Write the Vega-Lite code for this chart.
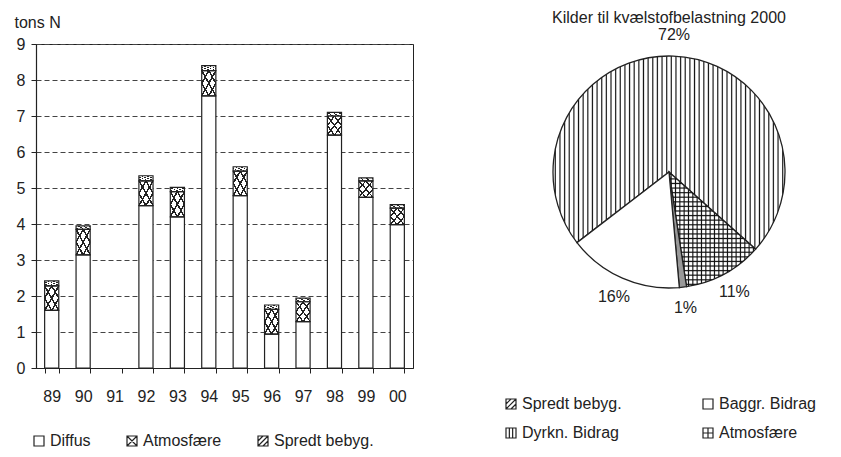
{
"$schema":"https://vega.github.io/schema/vega-lite/v6.json",
"background":"white",
"padding":{"left":13,"top":10,"right":0,"bottom":0},
"spacing":89,
"config":{"font":"Liberation Sans","view":{"stroke":null},"axis":{"labelColor":"#222","titleColor":"#222","domainColor":"#222","tickColor":"#222"},"legend":{"labelColor":"#222"}},
"resolve":{"scale":{"shape":"independent"},"legend":{"shape":"independent"}},
"hconcat":[
{
"width":377,"height":324,
"view":{"stroke":"#222","strokeWidth":1},
"data":{"values":[
{"year":"89","source":"Diffus","value":1.6},{"year":"89","source":"Atmosfære","value":0.68},{"year":"89","source":"Spredt bebyg.","value":0.14},
{"year":"90","source":"Diffus","value":3.14},{"year":"90","source":"Atmosfære","value":0.71},{"year":"90","source":"Spredt bebyg.","value":0.1},
{"year":"92","source":"Diffus","value":4.51},{"year":"92","source":"Atmosfære","value":0.69},{"year":"92","source":"Spredt bebyg.","value":0.14},
{"year":"93","source":"Diffus","value":4.2},{"year":"93","source":"Atmosfære","value":0.7},{"year":"93","source":"Spredt bebyg.","value":0.12},
{"year":"94","source":"Diffus","value":7.56},{"year":"94","source":"Atmosfære","value":0.7},{"year":"94","source":"Spredt bebyg.","value":0.14},
{"year":"95","source":"Diffus","value":4.79},{"year":"95","source":"Atmosfære","value":0.68},{"year":"95","source":"Spredt bebyg.","value":0.12},
{"year":"96","source":"Diffus","value":0.94},{"year":"96","source":"Atmosfære","value":0.69},{"year":"96","source":"Spredt bebyg.","value":0.12},
{"year":"97","source":"Diffus","value":1.29},{"year":"97","source":"Atmosfære","value":0.55},{"year":"97","source":"Spredt bebyg.","value":0.1},
{"year":"98","source":"Diffus","value":6.47},{"year":"98","source":"Atmosfære","value":0.53},{"year":"98","source":"Spredt bebyg.","value":0.1},
{"year":"99","source":"Diffus","value":4.74},{"year":"99","source":"Atmosfære","value":0.46},{"year":"99","source":"Spredt bebyg.","value":0.08},
{"year":"00","source":"Diffus","value":3.98},{"year":"00","source":"Atmosfære","value":0.46},{"year":"00","source":"Spredt bebyg.","value":0.1}
]},
"transform":[{"calculate":"indexof(['Diffus','Atmosfære','Spredt bebyg.'], datum.source)","as":"k"}],
"encoding":{
"x":{"field":"year","type":"nominal","scale":{"domain":["89","90","91","92","93","94","95","96","97","98","99","00"],"paddingInner":0.55,"paddingOuter":0.275},
 "axis":{"title":null,"labelAngle":0,"tickBand":"extent","tickSize":5,"labelPadding":15,"labelFontSize":16,"domainWidth":1.2}},
"y":{"field":"value","type":"quantitative","stack":"zero","scale":{"domain":[0,9],"nice":false},
 "axis":{"title":"tons N","titleAngle":0,"titleAlign":"left","titleBaseline":"alphabetic","titleX":-22,"titleY":-17,"titleFontSize":16,"titleFontWeight":"normal",
 "values":[0,1,2,3,4,5,6,7,8,9],"grid":true,"gridDash":[5,3],"gridColor":"#444","gridWidth":1,"tickSize":5,"labelPadding":6,"labelFontSize":16,"domainWidth":1.2}},
"detail":{"field":"source"},
"order":{"field":"k","type":"quantitative"}
},
"layer":[
{"mark":{"type":"bar","strokeWidth":0},
 "encoding":{"fill":{"condition":[
  {"test":"datum.source === 'Atmosfære'","value":{"gradient":"linear","x1":0,"y1":0,"x2":1,"y2":1,"stops":[{"offset":0.22,"color":"#fff"},{"offset":0.22,"color":"#222"},{"offset":0.28,"color":"#222"},{"offset":0.28,"color":"#fff"},{"offset":0.47,"color":"#fff"},{"offset":0.47,"color":"#222"},{"offset":0.53,"color":"#222"},{"offset":0.53,"color":"#fff"},{"offset":0.72,"color":"#fff"},{"offset":0.72,"color":"#222"},{"offset":0.78,"color":"#222"},{"offset":0.78,"color":"#fff"}]}},
  {"test":"datum.source === 'Spredt bebyg.'","value":{"gradient":"linear","x1":0,"y1":0,"x2":1,"y2":1,"stops":[{"offset":0.17,"color":"#fff"},{"offset":0.17,"color":"#222"},{"offset":0.23,"color":"#222"},{"offset":0.23,"color":"#fff"},{"offset":0.37,"color":"#fff"},{"offset":0.37,"color":"#222"},{"offset":0.43,"color":"#222"},{"offset":0.43,"color":"#fff"},{"offset":0.57,"color":"#fff"},{"offset":0.57,"color":"#222"},{"offset":0.63,"color":"#222"},{"offset":0.63,"color":"#fff"},{"offset":0.77,"color":"#fff"},{"offset":0.77,"color":"#222"},{"offset":0.83,"color":"#222"},{"offset":0.83,"color":"#fff"}]}}
 ],"value":"#fff"}}},
{"mark":{"type":"bar","stroke":"#222","strokeWidth":1.2},
 "encoding":{"fill":{"condition":{"test":"datum.source === 'Atmosfære'","value":
  {"gradient":"linear","x1":1,"y1":0,"x2":0,"y2":1,"stops":[{"offset":0.22,"color":"rgba(0,0,0,0)"},{"offset":0.22,"color":"#222"},{"offset":0.28,"color":"#222"},{"offset":0.28,"color":"rgba(0,0,0,0)"},{"offset":0.47,"color":"rgba(0,0,0,0)"},{"offset":0.47,"color":"#222"},{"offset":0.53,"color":"#222"},{"offset":0.53,"color":"rgba(0,0,0,0)"},{"offset":0.72,"color":"rgba(0,0,0,0)"},{"offset":0.72,"color":"#222"},{"offset":0.78,"color":"#222"},{"offset":0.78,"color":"rgba(0,0,0,0)"}]}},"value":"transparent"}}},
{"mark":{"type":"point","opacity":0,"color":"#222"},
 "encoding":{"shape":{"field":"source","type":"nominal",
  "scale":{"domain":["Diffus","Atmosfære","Spredt bebyg."],"range":["M-1,-1H1V1H-1Z","M-1,-1H1V1H-1Z M-1,-1L1,1 M1,-1L-1,1","M-1,-1H1V1H-1Z M-1,0L0,-1 M-1,1L1,-1 M0,1L1,0"]},
  "legend":{"title":null,"orient":"none","direction":"horizontal","legendX":-5,"legendY":389,"symbolSize":100,"symbolStrokeWidth":1.2,"symbolStrokeColor":"#222","symbolOpacity":1,"labelFontSize":16,"columnPadding":33,"labelOffset":3}}}}
]
},
{
"width":324,"height":256,
"title":{"text":"Kilder til kvælstofbelastning 2000","fontSize":16,"fontWeight":"normal","color":"#222","offset":1},
"data":{"values":[{"source":"Dyrkn. Bidrag","pct":72},{"source":"Atmosfære","pct":11},{"source":"Spredt bebyg.","pct":1},{"source":"Baggr. Bidrag","pct":16}]},
"transform":[{"calculate":"indexof(['Dyrkn. Bidrag','Atmosfære','Spredt bebyg.','Baggr. Bidrag'], datum.source)","as":"k"},{"calculate":"datum.pct + '%'","as":"label"}],
"layer":[
{"mark":{"type":"arc","outerRadius":116,"stroke":"#222","strokeWidth":1.3},
 "encoding":{
 "theta":{"field":"pct","type":"quantitative","stack":true,"scale":{"range":[4.058,10.341]}},
 "order":{"field":"k","type":"quantitative"},
 "detail":{"field":"source"},
 "fill":{"condition":[
  {"test":"datum.source === 'Dyrkn. Bidrag'","value":{"gradient":"linear","x1":0,"y1":0,"x2":1,"y2":0,"stops":[
{"offset":0.005,"color":"#fff"},{"offset":0.01,"color":"#111"},{"offset":0.015,"color":"#fff"},
{"offset":0.025,"color":"#fff"},{"offset":0.03,"color":"#111"},{"offset":0.035,"color":"#fff"},
{"offset":0.045,"color":"#fff"},{"offset":0.05,"color":"#111"},{"offset":0.055,"color":"#fff"},
{"offset":0.065,"color":"#fff"},{"offset":0.07,"color":"#111"},{"offset":0.075,"color":"#fff"},
{"offset":0.085,"color":"#fff"},{"offset":0.09,"color":"#111"},{"offset":0.095,"color":"#fff"},
{"offset":0.105,"color":"#fff"},{"offset":0.11,"color":"#111"},{"offset":0.115,"color":"#fff"},
{"offset":0.125,"color":"#fff"},{"offset":0.13,"color":"#111"},{"offset":0.135,"color":"#fff"},
{"offset":0.145,"color":"#fff"},{"offset":0.15,"color":"#111"},{"offset":0.155,"color":"#fff"},
{"offset":0.165,"color":"#fff"},{"offset":0.17,"color":"#111"},{"offset":0.175,"color":"#fff"},
{"offset":0.185,"color":"#fff"},{"offset":0.19,"color":"#111"},{"offset":0.195,"color":"#fff"},
{"offset":0.205,"color":"#fff"},{"offset":0.21,"color":"#111"},{"offset":0.215,"color":"#fff"},
{"offset":0.225,"color":"#fff"},{"offset":0.23,"color":"#111"},{"offset":0.235,"color":"#fff"},
{"offset":0.245,"color":"#fff"},{"offset":0.25,"color":"#111"},{"offset":0.255,"color":"#fff"},
{"offset":0.265,"color":"#fff"},{"offset":0.27,"color":"#111"},{"offset":0.275,"color":"#fff"},
{"offset":0.285,"color":"#fff"},{"offset":0.29,"color":"#111"},{"offset":0.295,"color":"#fff"},
{"offset":0.305,"color":"#fff"},{"offset":0.31,"color":"#111"},{"offset":0.315,"color":"#fff"},
{"offset":0.325,"color":"#fff"},{"offset":0.33,"color":"#111"},{"offset":0.335,"color":"#fff"},
{"offset":0.345,"color":"#fff"},{"offset":0.35,"color":"#111"},{"offset":0.355,"color":"#fff"},
{"offset":0.365,"color":"#fff"},{"offset":0.37,"color":"#111"},{"offset":0.375,"color":"#fff"},
{"offset":0.385,"color":"#fff"},{"offset":0.39,"color":"#111"},{"offset":0.395,"color":"#fff"},
{"offset":0.405,"color":"#fff"},{"offset":0.41,"color":"#111"},{"offset":0.415,"color":"#fff"},
{"offset":0.425,"color":"#fff"},{"offset":0.43,"color":"#111"},{"offset":0.435,"color":"#fff"},
{"offset":0.445,"color":"#fff"},{"offset":0.45,"color":"#111"},{"offset":0.455,"color":"#fff"},
{"offset":0.465,"color":"#fff"},{"offset":0.47,"color":"#111"},{"offset":0.475,"color":"#fff"},
{"offset":0.485,"color":"#fff"},{"offset":0.49,"color":"#111"},{"offset":0.495,"color":"#fff"},
{"offset":0.505,"color":"#fff"},{"offset":0.51,"color":"#111"},{"offset":0.515,"color":"#fff"},
{"offset":0.525,"color":"#fff"},{"offset":0.53,"color":"#111"},{"offset":0.535,"color":"#fff"},
{"offset":0.545,"color":"#fff"},{"offset":0.55,"color":"#111"},{"offset":0.555,"color":"#fff"},
{"offset":0.565,"color":"#fff"},{"offset":0.57,"color":"#111"},{"offset":0.575,"color":"#fff"},
{"offset":0.585,"color":"#fff"},{"offset":0.59,"color":"#111"},{"offset":0.595,"color":"#fff"},
{"offset":0.605,"color":"#fff"},{"offset":0.61,"color":"#111"},{"offset":0.615,"color":"#fff"},
{"offset":0.625,"color":"#fff"},{"offset":0.63,"color":"#111"},{"offset":0.635,"color":"#fff"},
{"offset":0.645,"color":"#fff"},{"offset":0.65,"color":"#111"},{"offset":0.655,"color":"#fff"},
{"offset":0.665,"color":"#fff"},{"offset":0.67,"color":"#111"},{"offset":0.675,"color":"#fff"},
{"offset":0.685,"color":"#fff"},{"offset":0.69,"color":"#111"},{"offset":0.695,"color":"#fff"},
{"offset":0.705,"color":"#fff"},{"offset":0.71,"color":"#111"},{"offset":0.715,"color":"#fff"},
{"offset":0.725,"color":"#fff"},{"offset":0.73,"color":"#111"},{"offset":0.735,"color":"#fff"},
{"offset":0.745,"color":"#fff"},{"offset":0.75,"color":"#111"},{"offset":0.755,"color":"#fff"},
{"offset":0.765,"color":"#fff"},{"offset":0.77,"color":"#111"},{"offset":0.775,"color":"#fff"},
{"offset":0.785,"color":"#fff"},{"offset":0.79,"color":"#111"},{"offset":0.795,"color":"#fff"},
{"offset":0.805,"color":"#fff"},{"offset":0.81,"color":"#111"},{"offset":0.815,"color":"#fff"},
{"offset":0.825,"color":"#fff"},{"offset":0.83,"color":"#111"},{"offset":0.835,"color":"#fff"},
{"offset":0.845,"color":"#fff"},{"offset":0.85,"color":"#111"},{"offset":0.855,"color":"#fff"},
{"offset":0.865,"color":"#fff"},{"offset":0.87,"color":"#111"},{"offset":0.875,"color":"#fff"},
{"offset":0.885,"color":"#fff"},{"offset":0.89,"color":"#111"},{"offset":0.895,"color":"#fff"},
{"offset":0.905,"color":"#fff"},{"offset":0.91,"color":"#111"},{"offset":0.915,"color":"#fff"},
{"offset":0.925,"color":"#fff"},{"offset":0.93,"color":"#111"},{"offset":0.935,"color":"#fff"},
{"offset":0.945,"color":"#fff"},{"offset":0.95,"color":"#111"},{"offset":0.955,"color":"#fff"},
{"offset":0.965,"color":"#fff"},{"offset":0.97,"color":"#111"},{"offset":0.975,"color":"#fff"},
{"offset":0.985,"color":"#fff"},{"offset":0.99,"color":"#111"},{"offset":0.995,"color":"#fff"}
]}},
  {"test":"datum.source === 'Atmosfære'","value":{"gradient":"linear","x1":0,"y1":0,"x2":1,"y2":0,"stops":[
{"offset":0.012,"color":"#fff"},{"offset":0.025,"color":"#111"},{"offset":0.038,"color":"#fff"},
{"offset":0.062,"color":"#fff"},{"offset":0.075,"color":"#111"},{"offset":0.088,"color":"#fff"},
{"offset":0.112,"color":"#fff"},{"offset":0.125,"color":"#111"},{"offset":0.138,"color":"#fff"},
{"offset":0.162,"color":"#fff"},{"offset":0.175,"color":"#111"},{"offset":0.188,"color":"#fff"},
{"offset":0.212,"color":"#fff"},{"offset":0.225,"color":"#111"},{"offset":0.238,"color":"#fff"},
{"offset":0.262,"color":"#fff"},{"offset":0.275,"color":"#111"},{"offset":0.288,"color":"#fff"},
{"offset":0.312,"color":"#fff"},{"offset":0.325,"color":"#111"},{"offset":0.338,"color":"#fff"},
{"offset":0.362,"color":"#fff"},{"offset":0.375,"color":"#111"},{"offset":0.388,"color":"#fff"},
{"offset":0.412,"color":"#fff"},{"offset":0.425,"color":"#111"},{"offset":0.438,"color":"#fff"},
{"offset":0.462,"color":"#fff"},{"offset":0.475,"color":"#111"},{"offset":0.488,"color":"#fff"},
{"offset":0.512,"color":"#fff"},{"offset":0.525,"color":"#111"},{"offset":0.538,"color":"#fff"},
{"offset":0.562,"color":"#fff"},{"offset":0.575,"color":"#111"},{"offset":0.588,"color":"#fff"},
{"offset":0.612,"color":"#fff"},{"offset":0.625,"color":"#111"},{"offset":0.638,"color":"#fff"},
{"offset":0.662,"color":"#fff"},{"offset":0.675,"color":"#111"},{"offset":0.688,"color":"#fff"},
{"offset":0.712,"color":"#fff"},{"offset":0.725,"color":"#111"},{"offset":0.738,"color":"#fff"},
{"offset":0.762,"color":"#fff"},{"offset":0.775,"color":"#111"},{"offset":0.788,"color":"#fff"},
{"offset":0.812,"color":"#fff"},{"offset":0.825,"color":"#111"},{"offset":0.838,"color":"#fff"},
{"offset":0.862,"color":"#fff"},{"offset":0.875,"color":"#111"},{"offset":0.888,"color":"#fff"},
{"offset":0.912,"color":"#fff"},{"offset":0.925,"color":"#111"},{"offset":0.938,"color":"#fff"},
{"offset":0.962,"color":"#fff"},{"offset":0.975,"color":"#111"},{"offset":0.988,"color":"#fff"}
]}},
  {"test":"datum.source === 'Spredt bebyg.'","value":"#999"}
 ],"value":"#fff"}}},
{"mark":{"type":"arc","outerRadius":116,"strokeWidth":0},
 "encoding":{
 "theta":{"field":"pct","type":"quantitative","stack":true,"scale":{"range":[4.058,10.341]}},
 "order":{"field":"k","type":"quantitative"},
 "detail":{"field":"source"},
 "fill":{"condition":{"test":"datum.source === 'Atmosfære'","value":{"gradient":"linear","x1":0,"y1":0,"x2":0,"y2":1,"stops":[
{"offset":0.01,"color":"rgba(0,0,0,0)"},{"offset":0.02,"color":"#111"},{"offset":0.03,"color":"rgba(0,0,0,0)"},
{"offset":0.05,"color":"rgba(0,0,0,0)"},{"offset":0.06,"color":"#111"},{"offset":0.07,"color":"rgba(0,0,0,0)"},
{"offset":0.09,"color":"rgba(0,0,0,0)"},{"offset":0.10,"color":"#111"},{"offset":0.11,"color":"rgba(0,0,0,0)"},
{"offset":0.13,"color":"rgba(0,0,0,0)"},{"offset":0.14,"color":"#111"},{"offset":0.15,"color":"rgba(0,0,0,0)"},
{"offset":0.17,"color":"rgba(0,0,0,0)"},{"offset":0.18,"color":"#111"},{"offset":0.19,"color":"rgba(0,0,0,0)"},
{"offset":0.21,"color":"rgba(0,0,0,0)"},{"offset":0.22,"color":"#111"},{"offset":0.23,"color":"rgba(0,0,0,0)"},
{"offset":0.25,"color":"rgba(0,0,0,0)"},{"offset":0.26,"color":"#111"},{"offset":0.27,"color":"rgba(0,0,0,0)"},
{"offset":0.29,"color":"rgba(0,0,0,0)"},{"offset":0.30,"color":"#111"},{"offset":0.31,"color":"rgba(0,0,0,0)"},
{"offset":0.33,"color":"rgba(0,0,0,0)"},{"offset":0.34,"color":"#111"},{"offset":0.35,"color":"rgba(0,0,0,0)"},
{"offset":0.37,"color":"rgba(0,0,0,0)"},{"offset":0.38,"color":"#111"},{"offset":0.39,"color":"rgba(0,0,0,0)"},
{"offset":0.41,"color":"rgba(0,0,0,0)"},{"offset":0.42,"color":"#111"},{"offset":0.43,"color":"rgba(0,0,0,0)"},
{"offset":0.45,"color":"rgba(0,0,0,0)"},{"offset":0.46,"color":"#111"},{"offset":0.47,"color":"rgba(0,0,0,0)"},
{"offset":0.49,"color":"rgba(0,0,0,0)"},{"offset":0.50,"color":"#111"},{"offset":0.51,"color":"rgba(0,0,0,0)"},
{"offset":0.53,"color":"rgba(0,0,0,0)"},{"offset":0.54,"color":"#111"},{"offset":0.55,"color":"rgba(0,0,0,0)"},
{"offset":0.57,"color":"rgba(0,0,0,0)"},{"offset":0.58,"color":"#111"},{"offset":0.59,"color":"rgba(0,0,0,0)"},
{"offset":0.61,"color":"rgba(0,0,0,0)"},{"offset":0.62,"color":"#111"},{"offset":0.63,"color":"rgba(0,0,0,0)"},
{"offset":0.65,"color":"rgba(0,0,0,0)"},{"offset":0.66,"color":"#111"},{"offset":0.67,"color":"rgba(0,0,0,0)"},
{"offset":0.69,"color":"rgba(0,0,0,0)"},{"offset":0.70,"color":"#111"},{"offset":0.71,"color":"rgba(0,0,0,0)"},
{"offset":0.73,"color":"rgba(0,0,0,0)"},{"offset":0.74,"color":"#111"},{"offset":0.75,"color":"rgba(0,0,0,0)"},
{"offset":0.77,"color":"rgba(0,0,0,0)"},{"offset":0.78,"color":"#111"},{"offset":0.79,"color":"rgba(0,0,0,0)"},
{"offset":0.81,"color":"rgba(0,0,0,0)"},{"offset":0.82,"color":"#111"},{"offset":0.83,"color":"rgba(0,0,0,0)"},
{"offset":0.85,"color":"rgba(0,0,0,0)"},{"offset":0.86,"color":"#111"},{"offset":0.87,"color":"rgba(0,0,0,0)"},
{"offset":0.89,"color":"rgba(0,0,0,0)"},{"offset":0.90,"color":"#111"},{"offset":0.91,"color":"rgba(0,0,0,0)"},
{"offset":0.93,"color":"rgba(0,0,0,0)"},{"offset":0.94,"color":"#111"},{"offset":0.95,"color":"rgba(0,0,0,0)"},
{"offset":0.97,"color":"rgba(0,0,0,0)"},{"offset":0.98,"color":"#111"},{"offset":0.99,"color":"rgba(0,0,0,0)"}
]}},"value":"transparent"}}},
{"mark":{"type":"text","radius":137,"fontSize":16,"color":"#222"},
 "encoding":{
 "theta":{"field":"pct","type":"quantitative","stack":true,"scale":{"range":[4.058,10.341]}},
 "order":{"field":"k","type":"quantitative"},
 "detail":{"field":"source"},
 "text":{"field":"label"}}},
{"mark":{"type":"point","opacity":0,"color":"#222"},
 "encoding":{"shape":{"field":"source","type":"nominal",
  "scale":{"domain":["Spredt bebyg.","Baggr. Bidrag","Dyrkn. Bidrag","Atmosfære"],"range":["M-1,-1H1V1H-1Z M-1,0L0,-1 M-1,1L1,-1 M0,1L1,0","M-1,-1H1V1H-1Z","M-1,-1H1V1H-1Z M-0.33,-1V1 M0.33,-1V1","M-1,-1H1V1H-1Z M0,-1V1 M-1,0H1"]},
  "legend":{"title":null,"orient":"none","direction":"horizontal","columns":2,"legendX":-4,"legendY":352,"symbolSize":100,"symbolStrokeWidth":1.2,"symbolStrokeColor":"#222","symbolOpacity":1,"labelFontSize":16,"columnPadding":78,"rowPadding":13,"labelOffset":3}}}}
]
}
]
}
